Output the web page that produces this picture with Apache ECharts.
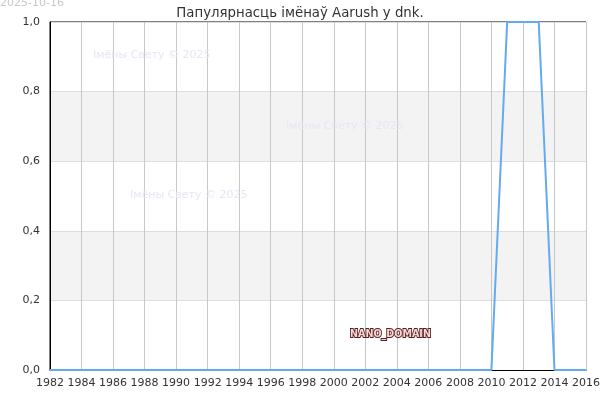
<!DOCTYPE html>
<html>
<head>
<meta charset="utf-8">
<script src="https://cdn.jsdelivr.net/npm/echarts@6.0.0/dist/echarts.min.js"></script>
<style>
	html, body { margin: 0; padding: 0; background: #fff; }
	#main { width: 600px; height: 400px; }
</style>
</head>
<body>
<div id="main"></div>
<script>
// data
const years = [1982, 1983, 1984, 1985, 1986, 1987, 1988, 1989, 1990, 1991, 1992, 1993, 1994, 1995, 1996, 1997, 1998, 1999,
	2000, 2001, 2002, 2003, 2004, 2005, 2006, 2007, 2008, 2009, 2010, 2011, 2012, 2013, 2014, 2015, 2016]
const values = [0, 0, 0, 0, 0, 0, 0, 0, 0, 0, 0, 0, 0, 0, 0, 0, 0, 0,
	0, 0, 0, 0, 0, 0, 0, 0, 0, 0, 0, 1, 1, 1, 0, 0, 0]
const titleText = 'Папулярнасць імёнаў Aarush у dnk.'
const dateText = '2025-10-16'
const watermark = 'Імёны Свету © 2025'

const font = 'DejaVu Sans'
const chart = echarts.init(document.getElementById('main'))

const option = {
	animation: false,
	title: {
		text: titleText,
		left: 'center',
		top: 2,
		textStyle: { fontFamily: font, fontSize: 13.3, fontWeight: 'normal', color: '#333' },
	},
	grid: {
		left: 50, right: 14, top: 22, bottom: 30,
		outerBoundsMode: 'none', containLabel: false,
		show: true, borderColor: '#000', borderWidth: 1,
	},
	xAxis: {
		type: 'value',
		min: 1982,
		max: 2016,
		interval: 2,
		axisLine: { lineStyle: { color: '#000', width: 1 } },
		axisTick: { show: false },
		axisLabel: { fontFamily: font, fontSize: 11, color: '#333', margin: 8, formatter: v => String(v) },
		splitLine: { show: true, lineStyle: { color: '#c8c8c8', width: 1 } },
	},
	yAxis: {
		type: 'value',
		min: 0,
		max: 1,
		interval: 0.2,
		axisLine: { show: true, lineStyle: { color: '#000', width: 1 } },
		axisTick: { show: false },
		axisLabel: { fontFamily: font, fontSize: 11, color: '#333', margin: 10, formatter: v => v.toFixed(1).replace('.', ',') },
		splitLine: { show: true, lineStyle: { color: '#dedede', width: 1 } },
		splitArea: { show: true, areaStyle: { color: ['#ffffff', '#f3f3f3'] } },
	},
	series: [{
		type: 'line',
		data: years.map((y, i) => [y, values[i]]),
		symbol: 'none',
		lineStyle: { color: '#64aaf0', width: 2 },
		z: 3,
	}],
	graphic: [
		{ type: 'text', left: 0, top: -2, z: 5, style: { text: dateText, fill: '#c8c8c8', font: `11px "${font}"` } },
		{ type: 'text', left: 93, top: 50, z: 5, style: { text: watermark, fill: '#e6e6f7', font: `11px "${font}"` } },
		{ type: 'text', left: 286, top: 121, z: 5, style: { text: watermark, fill: '#e6e6f7', font: `11px "${font}"` } },
		{ type: 'text', left: 130, top: 190, z: 5, style: { text: watermark, fill: '#e6e6f7', font: `11px "${font}"` } },
		{
			type: 'text', x: 350, y: 329, scaleX: 0.87, z: 10,
			style: { text: 'NANO_DOMAIN', fill: '#f4d8d8', stroke: '#5a1c1c', lineWidth: 2, font: `bold 11px "${font}"` },
		},
	],
}

chart.setOption(option)
</script>
</body>
</html>
